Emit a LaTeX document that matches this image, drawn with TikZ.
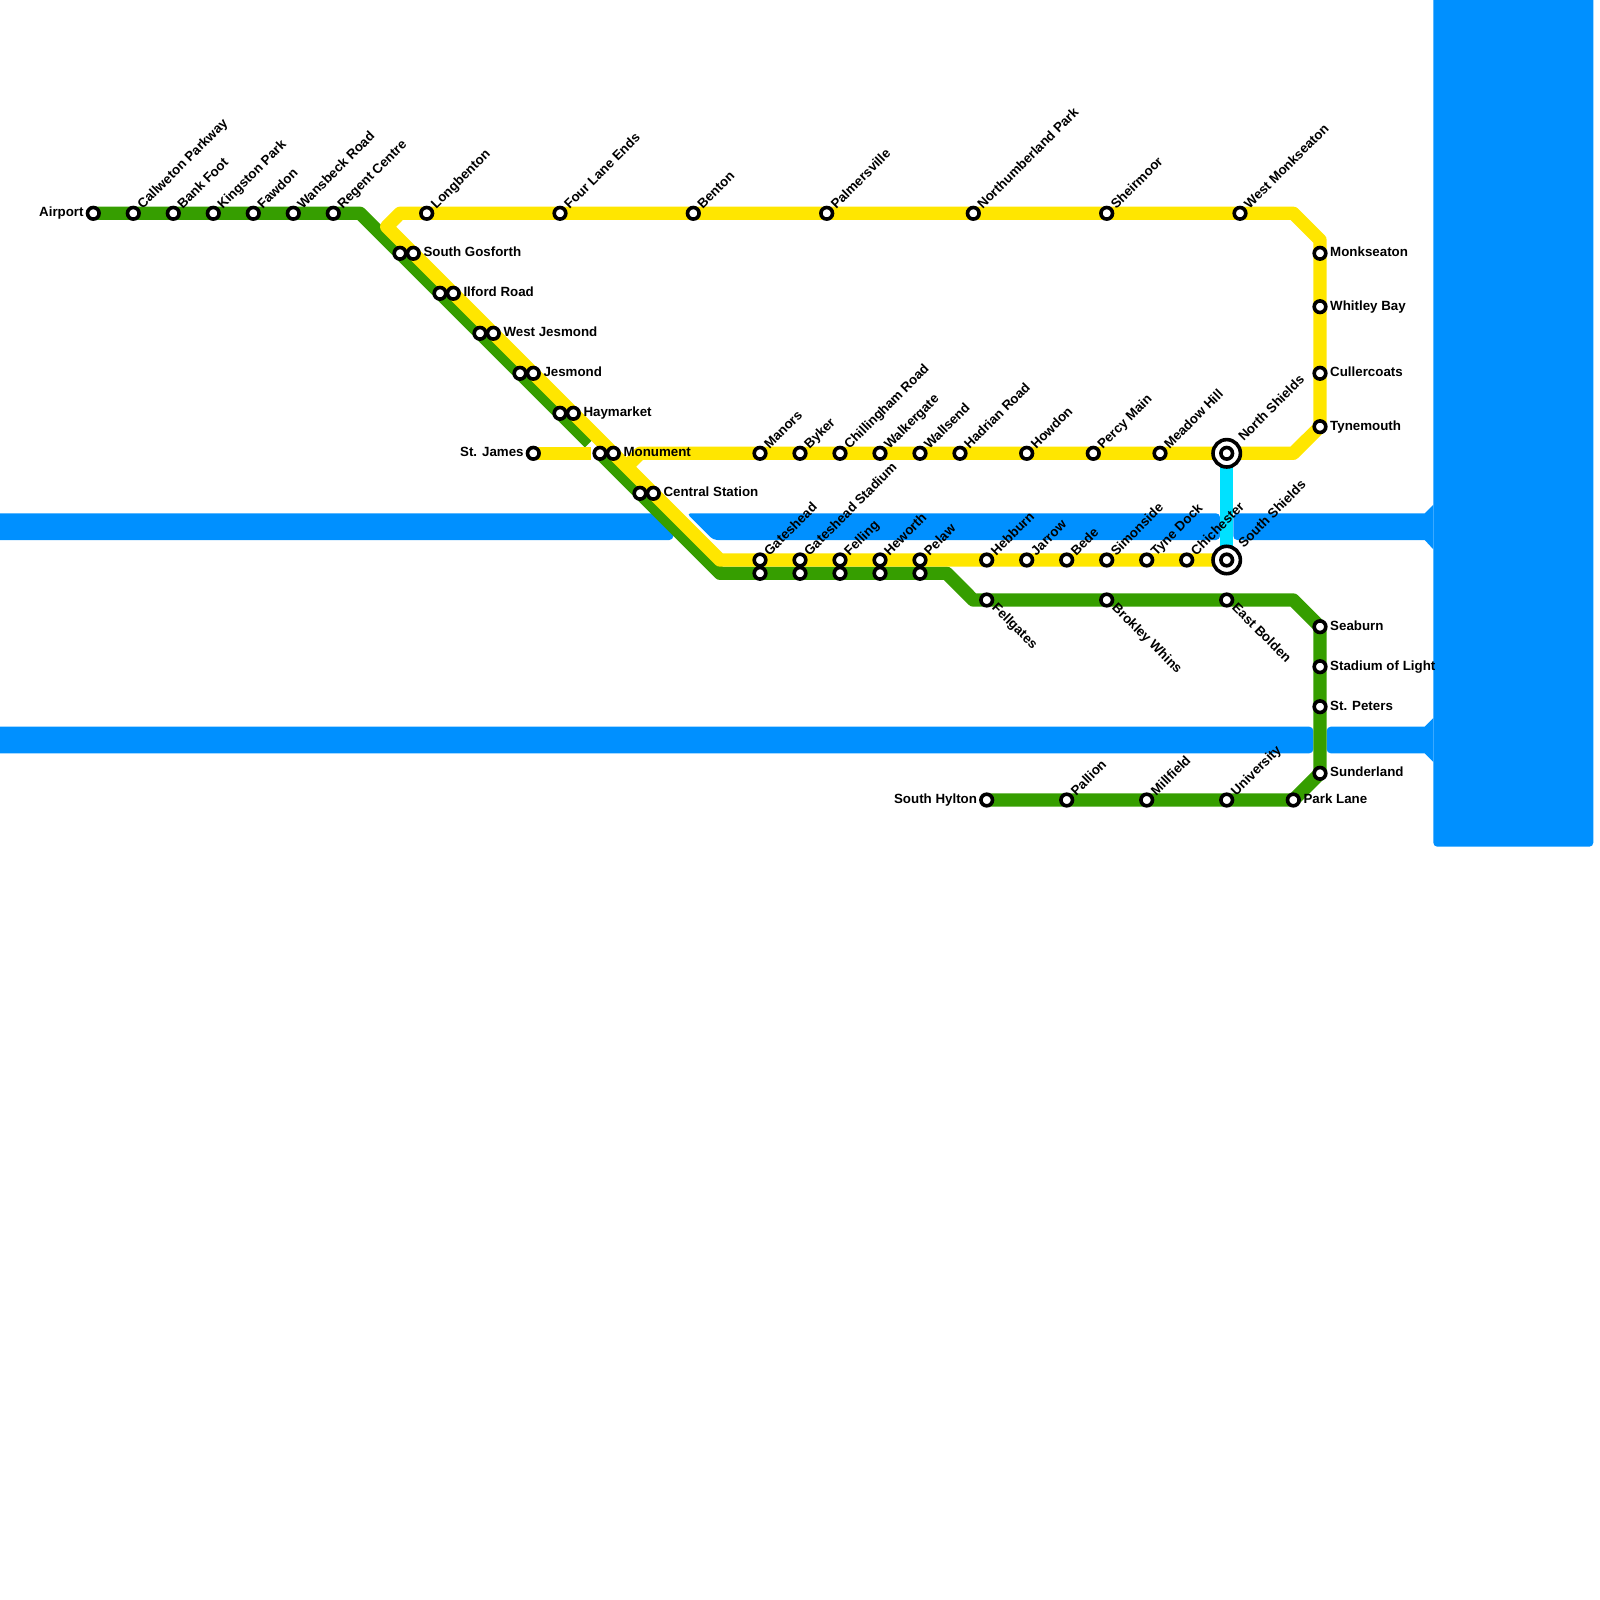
\documentclass[tikz,border=0pt]{standalone}
\usepackage{fontspec}
\setmainfont{Liberation Sans}
\usetikzlibrary{backgrounds}
\definecolor{river}{RGB}{0,144,255}
\definecolor{greenline}{RGB}{54,158,0}
\definecolor{yellowline}{RGB}{255,230,0}
\definecolor{ferryline}{RGB}{0,225,255}

\begin{document}
\begin{tikzpicture}[
  x=1pt, y=-1pt,
  every node/.style={font=\bfseries\fontsize{13.33}{16}\selectfont, inner sep=0pt, text height=9.5pt, text depth=2.5pt},
  stn/.style={circle, draw=black, fill=white, line width=3.6pt, minimum size=11.6pt, text height=, text depth=},
  hub/.style={circle, draw=black, fill=white, line width=3.6pt, minimum size=27.4pt, text height=, text depth=},
  lblright/.style={anchor=west, xshift=10pt},
  lblleft/.style={anchor=east, xshift=-9.5pt},
  lblup/.style={anchor=west, xshift=7pt, yshift=6pt, rotate=45},
  lblhub/.style={anchor=west, xshift=14.5pt, yshift=13.8pt, rotate=45},
  lbldown/.style={anchor=west, xshift=7pt, yshift=-6pt, rotate=-45},
  metro/.style={line width=13.33pt, line join=round}
]
\useasboundingbox (0,0) rectangle (1600,1600);

% north-west branch
\node[stn] (airport) at (93.3, 213.3) {};
\node[stn] (callweton) at (133.3, 213.3) {};
\node[stn] (bankfoot) at (173.3, 213.3) {};
\node[stn] (kingston) at (213.3, 213.3) {};
\node[stn] (fawdon) at (253.3, 213.3) {};
\node[stn] (wansbeck) at (293.3, 213.3) {};
\node[stn] (regent) at (333.3, 213.3) {};

% top of the loop
\node[stn] (longbenton) at (426.7, 213.3) {};
\node[stn] (fourlane) at (560, 213.3) {};
\node[stn] (benton) at (693.3, 213.3) {};
\node[stn] (palmersville) at (826.7, 213.3) {};
\node[stn] (northumberland) at (973.3, 213.3) {};
\node[stn] (sheirmoor) at (1106.7, 213.3) {};
\node[stn] (monkseatonw) at (1240, 213.3) {};
\node[stn] (monkseaton) at (1320, 253.3) {};
\node[stn] (whitley) at (1320, 306.7) {};
\node[stn] (cullercoats) at (1320, 373.3) {};
\node[stn] (tynemouth) at (1320, 426.7) {};

% shared diagonal
\node[stn] (gosforthG) at (400, 253.3) {};
\node[stn] (gosforthY) at (413.3, 253.3) {};
\node[stn] (ilfordG) at (440, 293.3) {};
\node[stn] (ilfordY) at (453.3, 293.3) {};
\node[stn] (wjesmondG) at (480, 333.3) {};
\node[stn] (wjesmondY) at (493.3, 333.3) {};
\node[stn] (jesmondG) at (520, 373.3) {};
\node[stn] (jesmondY) at (533.3, 373.3) {};
\node[stn] (haymarketG) at (560, 413.3) {};
\node[stn] (haymarketY) at (573.3, 413.3) {};
\node[stn] (monumentG) at (600, 453.3) {};
\node[stn] (monumentY) at (613.3, 453.3) {};
\node[stn] (centralG) at (640, 493.3) {};
\node[stn] (centralY) at (653.3, 493.3) {};
\node[stn] (stjames) at (533.3, 453.3) {};

% north bank
\node[stn] (manors) at (760, 453.3) {};
\node[stn] (byker) at (800, 453.3) {};
\node[stn] (chillingham) at (840, 453.3) {};
\node[stn] (walkergate) at (880, 453.3) {};
\node[stn] (wallsend) at (920, 453.3) {};
\node[stn] (hadrian) at (960, 453.3) {};
\node[stn] (howdon) at (1026.7, 453.3) {};
\node[stn] (percymain) at (1093.3, 453.3) {};
\node[stn] (meadowhill) at (1160, 453.3) {};
\node[hub] (northshields) at (1226.7, 453.3) {};
\node[stn] (northshieldsin) at (1226.7, 453.3) {};

% south bank
\node[stn] (gatesheadY) at (760, 560) {};
\node[stn] (gatesheadG) at (760, 573.3) {};
\node[stn] (stadiumY) at (800, 560) {};
\node[stn] (stadiumG) at (800, 573.3) {};
\node[stn] (fellingY) at (840, 560) {};
\node[stn] (fellingG) at (840, 573.3) {};
\node[stn] (heworthY) at (880, 560) {};
\node[stn] (heworthG) at (880, 573.3) {};
\node[stn] (pelawY) at (920, 560) {};
\node[stn] (pelawG) at (920, 573.3) {};
\node[stn] (hebburn) at (986.7, 560) {};
\node[stn] (jarrow) at (1026.7, 560) {};
\node[stn] (bede) at (1066.7, 560) {};
\node[stn] (simonside) at (1106.7, 560) {};
\node[stn] (tynedock) at (1146.7, 560) {};
\node[stn] (chichester) at (1186.7, 560) {};
\node[hub] (southshields) at (1226.7, 560) {};
\node[stn] (southshieldsin) at (1226.7, 560) {};

% sunderland branch
\node[stn] (fellgates) at (986.7, 600) {};
\node[stn] (brokley) at (1106.7, 600) {};
\node[stn] (eastbolden) at (1226.7, 600) {};
\node[stn] (seaburn) at (1320, 626.7) {};
\node[stn] (stadiumlight) at (1320, 666.7) {};
\node[stn] (stpeters) at (1320, 706.7) {};
\node[stn] (sunderland) at (1320, 773.3) {};
\node[stn] (parklane) at (1293.3, 800) {};
\node[stn] (university) at (1226.7, 800) {};
\node[stn] (millfield) at (1146.7, 800) {};
\node[stn] (pallion) at (1066.7, 800) {};
\node[stn] (southhylton) at (986.7, 800) {};

% line corners
\coordinate (gnw) at (360, 213.3);
\coordinate (gstop) at (589.5, 442.8);
\coordinate (gsw) at (720, 573.3);
\coordinate (gbend) at (946.7, 573.3);
\coordinate (gbendb) at (973.3, 600);
\coordinate (gse) at (1293.3, 600);
\coordinate (ysw) at (720, 560);
\coordinate (ynw) at (386.7, 226.7);
\coordinate (ynwb) at (400, 213.3);
\coordinate (yne) at (1293.3, 213.3);
\coordinate (yneb) at (1320, 240);
\coordinate (yse) at (1293.3, 453.3);
\coordinate (ybranch) at (640, 453.3);
\coordinate (ybranchb) at (626.7, 466.7);
\coordinate (ystub) at (590.5, 453.3);

\begin{scope}[on background layer]
\fill[river] (0,513.3) [rounded corners=4pt] -- (673.3,513.3) -- (673.3,540) [sharp corners] -- (0,540) -- cycle;
\fill[river, rounded corners=4pt] (800,513.3) -- (1220,513.3) -- (1220,540) -- (713.3,540) -- (686.7,513.3) -- cycle;
\fill[river] (1233.3,526) [rounded corners=4pt] -- (1233.3,513.3) [sharp corners] -- (1424.7,513.3) -- (1433.3,504.7) -- (1433.3,549.3) -- (1424.7,540) -- (1300,540) [rounded corners=4pt] -- (1233.3,540) -- cycle;
\fill[river] (0,726.7) [rounded corners=4pt] -- (1313.3,726.7) -- (1313.3,753.3) [sharp corners] -- (0,753.3) -- cycle;
\fill[river] (1326.7,740) [rounded corners=4pt] -- (1326.7,726.7) [sharp corners] -- (1424.7,726.7) -- (1433.3,718) -- (1433.3,762) -- (1424.7,753.3) -- (1360,753.3) [rounded corners=4pt] -- (1326.7,753.3) -- cycle;
\fill[river] (1433.3,0) -- (1593.3,0) [rounded corners=4pt] -- (1593.3,846.7) -- (1433.3,846.7) [sharp corners] -- cycle;

\draw[metro, draw=ferryline] (northshields.center) -- (southshields.center);
\draw[metro, draw=greenline] (airport.center) -- (regent.center) -- (gnw) -- (gstop);
\draw[metro, draw=greenline] (monumentG.center) -- (centralG.center) -- (gsw) -- (pelawG.center) -- (gbend) -- (gbendb) -- (fellgates.center) -- (gse) -- (seaburn.center) -- (sunderland.center) -- (parklane.center) -- (southhylton.center);
\draw[metro, draw=yellowline] (stjames.center) -- (ystub);
\draw[metro, draw=yellowline] (southshields.center) -- (ysw) -- (ynw) -- (ynwb) -- (yne) -- (yneb) -- (tynemouth.center) -- (yse) -- (northshields.center) -- (ybranch) -- (ybranchb);
\end{scope}

% labels
\node[lblleft] (airportlbl) at (airport) {Airport};
\node[lblup] (callwetonlbl) at (callweton) {Callweton Parkway};
\node[lblup] (bankfootlbl) at (bankfoot) {Bank Foot};
\node[lblup] (kingstonlbl) at (kingston) {Kingston Park};
\node[lblup] (fawdonlbl) at (fawdon) {Fawdon};
\node[lblup] (wansbecklbl) at (wansbeck) {Wansbeck Road};
\node[lblup] (regentlbl) at (regent) {Regent Centre};
\node[lblup] (longbentonlbl) at (longbenton) {Longbenton};
\node[lblup] (fourlanelbl) at (fourlane) {Four Lane Ends};
\node[lblup] (bentonlbl) at (benton) {Benton};
\node[lblup] (palmersvillelbl) at (palmersville) {Palmersville};
\node[lblup] (northumberlandlbl) at (northumberland) {Northumberland Park};
\node[lblup] (sheirmoorlbl) at (sheirmoor) {Sheirmoor};
\node[lblup] (monkseatonwlbl) at (monkseatonw) {West Monkseaton};
\node[lblright] (monkseatonlbl) at (monkseaton) {Monkseaton};
\node[lblright] (whitleylbl) at (whitley) {Whitley Bay};
\node[lblright] (cullercoatslbl) at (cullercoats) {Cullercoats};
\node[lblright] (tynemouthlbl) at (tynemouth) {Tynemouth};
\node[lblright] (gosforthlbl) at (gosforthY) {South Gosforth};
\node[lblright] (ilfordlbl) at (ilfordY) {Ilford Road};
\node[lblright] (wjesmondlbl) at (wjesmondY) {West Jesmond};
\node[lblright] (jesmondlbl) at (jesmondY) {Jesmond};
\node[lblright] (haymarketlbl) at (haymarketY) {Haymarket};
\node[lblright] (monumentlbl) at (monumentY) {Monument};
\node[lblright] (centrallbl) at (centralY) {Central Station};
\node[lblleft] (stjameslbl) at (stjames) {St. James};
\node[lblup] (manorslbl) at (manors) {Manors};
\node[lblup] (bykerlbl) at (byker) {Byker};
\node[lblup] (chillinghamlbl) at (chillingham) {Chillingham Road};
\node[lblup] (walkergatelbl) at (walkergate) {Walkergate};
\node[lblup] (wallsendlbl) at (wallsend) {Wallsend};
\node[lblup] (hadrianlbl) at (hadrian) {Hadrian Road};
\node[lblup] (howdonlbl) at (howdon) {Howdon};
\node[lblup] (percymainlbl) at (percymain) {Percy Main};
\node[lblup] (meadowhilllbl) at (meadowhill) {Meadow Hill};
\node[lblhub] (northshieldslbl) at (northshields) {North Shields};
\node[lblup] (gatesheadlbl) at (gatesheadY) {Gateshead};
\node[lblup] (stadiumlbl) at (stadiumY) {Gateshead Stadium};
\node[lblup] (fellinglbl) at (fellingY) {Felling};
\node[lblup] (heworthlbl) at (heworthY) {Heworth};
\node[lblup] (pelawlbl) at (pelawY) {Pelaw};
\node[lblup] (hebburnlbl) at (hebburn) {Hebburn};
\node[lblup] (jarrowlbl) at (jarrow) {Jarrow};
\node[lblup] (bedelbl) at (bede) {Bede};
\node[lblup] (simonsidelbl) at (simonside) {Simonside};
\node[lblup] (tynedocklbl) at (tynedock) {Tyne Dock};
\node[lblup] (chichesterlbl) at (chichester) {Chichester};
\node[lblhub] (southshieldslbl) at (southshields) {South Shields};
\node[lbldown] (fellgateslbl) at (fellgates) {Fellgates};
\node[lbldown] (brokleylbl) at (brokley) {Brokley Whins};
\node[lbldown] (eastboldenlbl) at (eastbolden) {East Bolden};
\node[lblright] (seaburnlbl) at (seaburn) {Seaburn};
\node[lblright] (stadiumlightlbl) at (stadiumlight) {Stadium of Light};
\node[lblright] (stpeterslbl) at (stpeters) {St. Peters};
\node[lblright] (sunderlandlbl) at (sunderland) {Sunderland};
\node[lblright] (parklanelbl) at (parklane) {Park Lane};
\node[lblup] (universitylbl) at (university) {University};
\node[lblup] (millfieldlbl) at (millfield) {Millfield};
\node[lblup] (pallionlbl) at (pallion) {Pallion};
\node[lblleft] (southhyltonlbl) at (southhylton) {South Hylton};

\end{tikzpicture}
\end{document}
